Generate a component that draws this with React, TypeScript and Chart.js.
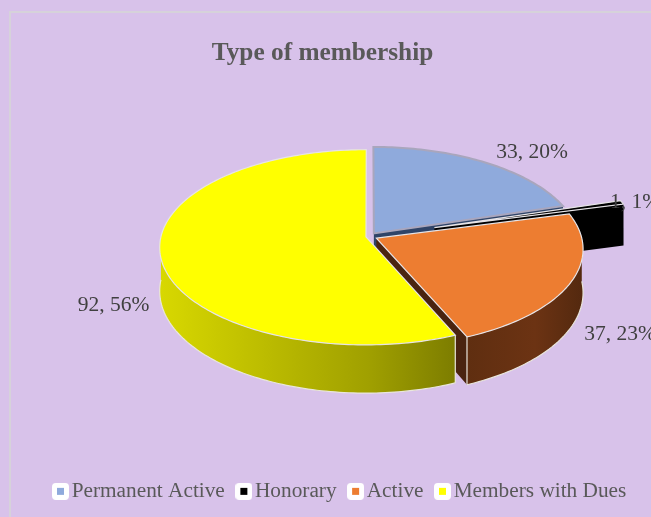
import React, { useEffect, useRef } from "react";
import { Chart, registerables } from "chart.js";

Chart.register(...registerables);

const categories = ["Permanent Active", "Honorary", "Active", "Members with Dues"];
const memberCounts = [33, 1, 37, 92];
const sliceColors = ["#8faadc", "#000000", "#ed7d31", "#ffff00"];

const FONT = "'Liberation Serif', 'Times New Roman', serif";
const BG = "#d8c2ea";
// view of the tilted disc
const CX = 369, CY = 236.5, RX = 205, RY = 96.4, PERSP = 0.1077, DEPTH = 43;
const EXPLODE = [0.04, 0.335, 0.04, 0.015];
const LABEL_POS: [number, number][] = [[532, 152], [635, 202], [620, 334], [113.5, 305]];
const LEGEND_PADDING = 18.5;
const LEGEND_START = 60;

function marker(color: string) {
  const c = document.createElement("canvas");
  c.width = 17;
  c.height = 17;
  const g = c.getContext("2d")!;
  g.fillStyle = "#ffffff";
  g.beginPath();
  g.roundRect(0, 0, 17, 17, 4);
  g.fill();
  g.fillStyle = color;
  g.fillRect(5, 5, 7, 7);
  return c;
}

const pie3d = {
  id: "pie3d",
  afterLayout(chart: any) {
    chart.legend.left = LEGEND_START - LEGEND_PADDING;
    chart.legend.right = chart.width + 80;
  },
  beforeDraw(chart: any) {
    const ctx = chart.ctx;
    ctx.save();
    ctx.fillStyle = BG;
    ctx.fillRect(0, 0, chart.width, chart.height);
    ctx.strokeStyle = "#d6d2da";
    ctx.lineWidth = 2;
    ctx.strokeRect(10, 12, chart.width + 20, chart.height + 20);
    ctx.restore();
  },
  beforeDatasetsDraw(chart: any) {
    const ctx = chart.ctx;
    const arcs = chart.getDatasetMeta(0).data;
    const total = memberCounts.reduce((a, b) => a + b, 0);

    const pointOf = (i: number) => {
      const arc = arcs[i];
      const mid = (arc.startAngle + arc.endAngle) / 2;
      const ou = EXPLODE[i] * Math.cos(mid), ov = EXPLODE[i] * Math.sin(mid);
      return (a: number, r: number) => {
        const u = ou + r * Math.cos(a), v = ov + r * Math.sin(a), w = 1 - PERSP * v;
        return { x: CX + (RX * u) / w, y: CY + (RY * v) / w, d: DEPTH / w };
      };
    };
    const sample = (a0: number, a1: number) => {
      const n = Math.max(2, Math.ceil(Math.abs(a1 - a0) / 0.02));
      return Array.from({ length: n + 1 }, (_, j) => a0 + ((a1 - a0) * j) / n);
    };

    const wallFill = (i: number) => {
      if (i === 3) {
        const g = ctx.createLinearGradient(160, 0, 458, 0);
        g.addColorStop(0, "#d8d800");
        g.addColorStop(0.3, "#c0c000");
        g.addColorStop(0.7, "#a0a000");
        g.addColorStop(1, "#7c7c00");
        return g;
      }
      if (i === 2) {
        const g = ctx.createLinearGradient(465, 0, 582, 0);
        g.addColorStop(0, "#5f2e10");
        g.addColorStop(0.6, "#6c3313");
        g.addColorStop(1, "#54290f");
        return g;
      }
      return i === 1 ? "#000000" : "#2f4468";
    };

    // back to front
    [0, 1, 2, 3].forEach((i) => {
      const arc = arcs[i];
      const P = pointOf(i);
      const a0 = arc.startAngle, a1 = arc.endAngle;

      const cutWall = (a: number, fill: any) => {
        const apex = P(a, 0), edge = P(a, 1);
        ctx.beginPath();
        ctx.moveTo(apex.x, apex.y);
        ctx.lineTo(edge.x, edge.y);
        ctx.lineTo(edge.x, edge.y + edge.d);
        ctx.lineTo(apex.x, apex.y + apex.d);
        ctx.closePath();
        ctx.fillStyle = fill;
        ctx.fill();
      };
      if (Math.cos(a1) > 0) cutWall(a1, i === 2 ? "#4a2410" : wallFill(i));
      if (Math.cos(a0) < 0) cutWall(a0, wallFill(i));

      const w0 = Math.max(a0, 0), w1 = Math.min(a1, Math.PI);
      if (w1 > w0) {
        const angles = sample(w0, w1);
        ctx.beginPath();
        angles.forEach((a, j) => {
          const p = P(a, 1);
          j ? ctx.lineTo(p.x, p.y) : ctx.moveTo(p.x, p.y);
        });
        [...angles].reverse().forEach((a) => {
          const p = P(a, 1);
          ctx.lineTo(p.x, p.y + p.d);
        });
        ctx.closePath();
        ctx.fillStyle = wallFill(i);
        ctx.fill();
        ctx.strokeStyle = "#e9e6dc";
        ctx.lineWidth = 1.2;
        ctx.beginPath();
        angles.forEach((a, j) => {
          const p = P(a, 1);
          j ? ctx.lineTo(p.x, p.y + p.d) : ctx.moveTo(p.x, p.y + p.d);
        });
        ctx.stroke();
        // light vertical edge where the wall meets the neighbouring slice
        const tip = i === 3 ? P(w0, 1) : P(w1, 1);
        ctx.beginPath();
        ctx.moveTo(tip.x, tip.y);
        ctx.lineTo(tip.x, tip.y + tip.d);
        ctx.stroke();
      }

      // top face
      const apex = P(a0, 0);
      ctx.beginPath();
      ctx.moveTo(apex.x, apex.y);
      sample(a0, a1).forEach((a) => {
        const p = P(a, 1);
        ctx.lineTo(p.x, p.y);
      });
      ctx.closePath();
      ctx.fillStyle = arc.options.backgroundColor;
      ctx.fill();
      ctx.strokeStyle = i === 0 ? "#a9a6bd" : "#e6e3e6";
      ctx.lineWidth = i === 0 ? 2 : 1.2;
      ctx.stroke();
    });

    // data labels
    ctx.save();
    ctx.font = `21.5px ${FONT}`;
    ctx.fillStyle = "#404040";
    ctx.textAlign = "center";
    ctx.textBaseline = "middle";
    memberCounts.forEach((v, i) => {
      const [x, y] = LABEL_POS[i];
      ctx.fillText(`${v}, ${Math.round((v / total) * 100)}%`, x, y);
    });
    ctx.restore();
    return false;
  },
};

export default function App() {
  const ref = useRef<HTMLCanvasElement>(null);
  useEffect(() => {
    document.body.style.margin = "0";
    document.body.style.background = BG;
    const chart = new Chart(ref.current!, {
      type: "pie",
      plugins: [pie3d],
      data: {
        labels: categories,
        datasets: [{ data: memberCounts, backgroundColor: sliceColors }],
      },
      options: {
        animation: false,
        responsive: false,
        devicePixelRatio: 1,
        layout: { padding: { left: 0, right: 6, top: 0, bottom: 5 } },
        plugins: {
          tooltip: { enabled: false },
          title: {
            display: true,
            text: "Type of membership",
            color: "#595959",
            font: { family: FONT, size: 25.3, weight: "bold" },
            padding: { top: 38, bottom: 20 },
          },
          legend: {
            position: "bottom",
            align: "start",
            labels: {
              usePointStyle: true,
              boxWidth: 1,
              padding: LEGEND_PADDING,
              color: "#595959",
              font: { family: FONT, size: 21.3 },
              generateLabels: () =>
                categories.map((text, index) => ({
                  text,
                  index,
                  fontColor: "#595959",
                  fillStyle: sliceColors[index],
                  strokeStyle: sliceColors[index],
                  lineWidth: 0,
                  hidden: false,
                  pointStyle: marker(sliceColors[index]),
                })),
            },
          },
        },
      } as any,
    } as any);
    return () => chart.destroy();
  }, []);
  return (
    <div style={{ width: 651, height: 517, overflow: "hidden" }}>
      <canvas ref={ref} width={651} height={517} style={{ display: "block" }} />
    </div>
  );
}
